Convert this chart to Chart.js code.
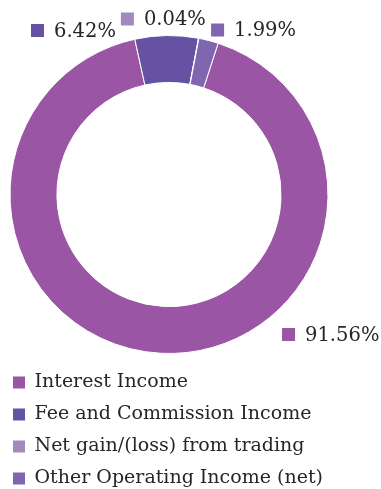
<!DOCTYPE html>
<html>
<head>
<meta charset="utf-8">
<script src="https://cdn.jsdelivr.net/npm/chart.js@4.4.0/dist/chart.umd.min.js"></script>
<style>
  html, body { margin: 0; padding: 0; background: #fff; }
  #wrap { position: relative; width: 381px; height: 489px; }
</style>
</head>
<body>
<div id="wrap"><canvas id="income-chart"></canvas></div>
<script>
// Operating income split, % of total
const categories = [
  'Interest Income',
  'Fee and Commission Income',
  'Net gain/(loss) from trading',
  'Other Operating Income (net)'
];
const shares = [91.56, 6.42, 0.04, 1.99];
const sliceColors = ['#9a55a5', '#6552a3', '#a28bba', '#8066b1'];

const textColor = '#262626';
const serif = "'DejaVu Serif', serif";

// Percentage labels with a colour key, placed relative to each slice's outer mid-point
const sliceLabels = {
  id: 'sliceLabels',
  afterDatasetsDraw(chart, args, opts) {
    const ctx = chart.ctx;
    const meta = chart.getDatasetMeta(0);
    ctx.save();
    ctx.font = `${opts.size}px ${serif}`;
    ctx.textBaseline = 'middle';
    ctx.textAlign = 'left';
    meta.data.forEach((arc, i) => {
      const { x, y, startAngle, endAngle, outerRadius } =
        arc.getProps(['x', 'y', 'startAngle', 'endAngle', 'outerRadius'], true);
      const mid = (startAngle + endAngle) / 2;
      const ax = x + Math.cos(mid) * outerRadius;
      const ay = y + Math.sin(mid) * outerRadius;
      const [dx, dy] = opts.offsets[i];
      const bx = ax + dx;
      const by = ay + dy;
      ctx.fillStyle = sliceColors[i];
      ctx.fillRect(bx, by - opts.box / 2, opts.box, opts.box);
      ctx.fillStyle = textColor;
      ctx.fillText(shares[i].toFixed(2) + '%', bx + opts.box + opts.gap, by + 1);
    });
    ctx.restore();
  }
};

const ctx = document.getElementById('income-chart');
new Chart(ctx, {
  type: 'doughnut',
  data: {
    labels: categories,
    datasets: [{
      data: shares,
      backgroundColor: sliceColors,
      borderColor: '#ffffff',
      borderWidth: 1,
      radius: 159,
      cutout: '70.5%'
    }]
  },
  options: {
    responsive: true,
    maintainAspectRatio: false,
    animation: false,
    rotation: 18,
    layout: {
      padding: { left: 0, right: 43, top: 29, bottom: -9 }
    },
    plugins: {
      tooltip: { enabled: false },
      legend: {
        position: 'bottom',
        align: 'start',
        labels: {
          boxWidth: 12,
          boxHeight: 12,
          padding: 13,
          color: textColor,
          font: { family: serif, size: 19 },
          generateLabels(chart) {
            const items = Chart.overrides.doughnut.plugins.legend.labels.generateLabels(chart);
            return items.map(item => ({ ...item, lineWidth: 0 }));
          }
        }
      },
      sliceLabels: {
        size: 19.5,
        box: 13,
        gap: 10,
        offsets: [[120.8, -18.8], [-135.6, -5], [-77.8, -19.3], [2.5, -10.5]]
      }
    }
  },
  plugins: [sliceLabels]
});
</script>
</body>
</html>
